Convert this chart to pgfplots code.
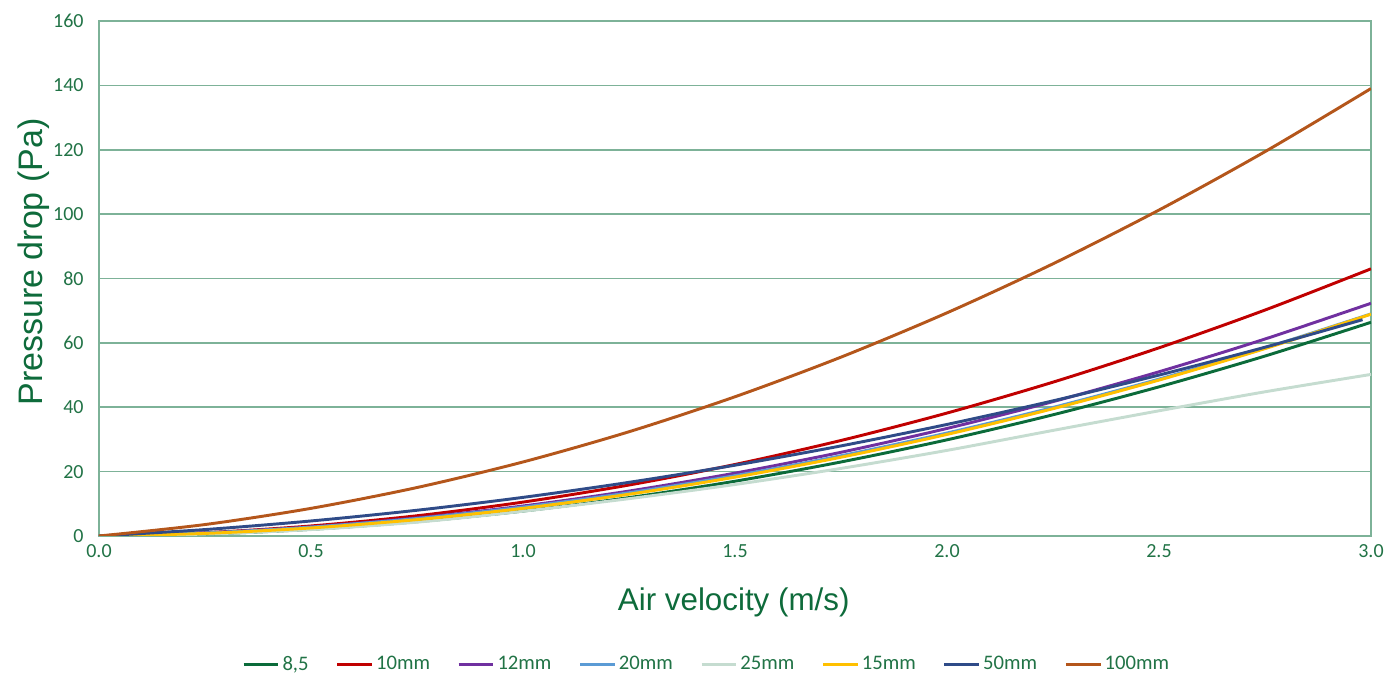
\documentclass[border=0pt]{standalone}
\usepackage{pgfplots}
\pgfplotsset{compat=1.18}
\usepackage{fontspec}
\setmainfont{Carlito}
\newfontfamily\arial{Liberation Sans}

\definecolor{txtgreen}{HTML}{217346}
\definecolor{titlegreen}{HTML}{0E6B3B}
\definecolor{gridgreen}{HTML}{7DB298}
\definecolor{c85}{HTML}{0B6B3A}
\definecolor{c10}{HTML}{C00000}
\definecolor{c12}{HTML}{7030A0}
\definecolor{c20}{HTML}{5B9BD5}
\definecolor{c25}{HTML}{C5DCD0}
\definecolor{c15}{HTML}{FFC000}
\definecolor{c50}{HTML}{2F4B88}
\definecolor{c100}{HTML}{B4561B}

\begin{document}
\begin{tikzpicture}
\useasboundingbox (-74.25pt,-103.5pt) rectangle (975pt,402pt);
\begin{axis}[
    scale only axis,
    width=954pt, height=386.25pt,
    xmin=0, xmax=3, ymin=0, ymax=160,
    xtick={0,0.5,1,1.5,2,2.5,3},
    ytick={0,20,40,60,80,100,120,140,160},
    /pgf/number format/assume math mode=true,
    xticklabel style={/pgf/number format/fixed, /pgf/number format/fixed zerofill,
        /pgf/number format/precision=1, yshift=-3pt},
    yticklabel style={xshift=-8pt},
    ticklabel style={font=\fontsize{15}{18}\selectfont, text=txtgreen},
    major tick length=0pt,
    axis line style={draw=gridgreen, line width=1.4pt},
    ymajorgrids=true,
    grid style={draw=gridgreen, line width=1.3pt},
    xlabel={Air velocity (m/s)},
    ylabel={Pressure drop (Pa)},
    every axis x label/.style={at={(axis description cs:0.499,-0.128)}, anchor=center,
        font=\arial\fontsize{23.5}{27}\selectfont, text=titlegreen},
    every axis y label/.style={at={(axis description cs:-0.051,0.532)}, rotate=90, anchor=center,
        font=\arial\fontsize{25.5}{29}\selectfont, text=titlegreen},
    legend columns=8,
    legend style={at={(0.478,-0.249)}, anchor=center, draw=none, fill=none,
        font=\fontsize{15.5}{18}\selectfont, text=txtgreen,
        /tikz/every even column/.append style={column sep=18.4pt}},
    legend image code/.code={\draw[#1, line width=2.2pt] (0pt,0pt) -- (26pt,0pt);},
    every axis plot/.append style={line width=2.2pt, smooth},
]

\addplot[color=c85] coordinates {
(0,0) (0.25,0.59) (0.5,2.08) (0.75,4.46) (1.0,7.75) (1.25,11.93) (1.5,17.02)
(1.75,23.00) (2.0,29.88) (2.25,37.66) (2.5,46.34) (2.75,55.91) (3.0,66.39)
};
\addlegendentry{8,5}

\addplot[color=c10] coordinates {
(0,0) (0.25,1.03) (0.5,3.12) (0.75,6.29) (1.0,10.53) (1.25,15.84) (1.5,22.22)
(1.75,29.68) (2.0,38.20) (2.25,47.80) (2.5,58.46) (2.75,70.20) (3.0,83.01)
};
\addlegendentry{10mm}

\addplot[color=c12] coordinates {
(0,0) (0.25,0.94) (0.5,2.82) (0.75,5.61) (1.0,9.32) (1.25,13.96) (1.5,19.53)
(1.75,26.01) (2.0,33.42) (2.25,41.75) (2.5,51.02) (2.75,61.20) (3.0,72.30)
};
\addlegendentry{12mm}

\addplot[color=c20] coordinates {
(0,0) (0.25,0.94) (0.5,2.75) (0.75,5.44) (1.0,9.00) (1.25,13.44) (1.5,18.75)
(1.75,24.94) (2.0,32.00) (2.25,39.94) (2.5,48.75) (2.75,58.44) (3.0,69.00)
};
\addlegendentry{20mm}

\addplot[color=c25] coordinates {
(0,0) (0.25,0.6) (0.5,2.0) (0.75,4.3) (1.0,7.7) (1.25,11.6) (1.5,16.0)
(1.75,21.0) (2.0,26.6) (2.25,32.8) (2.5,38.9) (2.75,44.8) (3.0,50.2)
};
\addlegendentry{25mm}

\addplot[color=c15] coordinates {
(0,0) (0.25,0.80) (0.5,2.50) (0.75,5.09) (1.0,8.59) (1.25,12.98) (1.5,18.28)
(1.75,24.47) (2.0,31.56) (2.25,39.55) (2.5,48.44) (2.75,58.22) (3.0,68.91)
};
\addlegendentry{15mm}

\addplot[color=c50] coordinates {
(0,0) (0.25,2.00) (0.5,4.67) (0.75,8.00) (1.0,12.00) (1.25,16.67) (1.5,22.00)
(1.75,27.99) (2.0,34.66) (2.25,41.99) (2.5,49.99) (2.75,58.65) (2.98,67.2)
};
\addlegendentry{50mm}

\addplot[color=c100] coordinates {
(0,0) (0.25,3.56) (0.5,8.59) (0.75,15.06) (1.0,23.00) (1.25,32.39) (1.5,43.26)
(1.75,55.57) (2.0,69.34) (2.25,84.57) (2.5,101.27) (2.75,119.41) (3.0,139.02)
};
\addlegendentry{100mm}

\end{axis}
\end{tikzpicture}
\end{document}
